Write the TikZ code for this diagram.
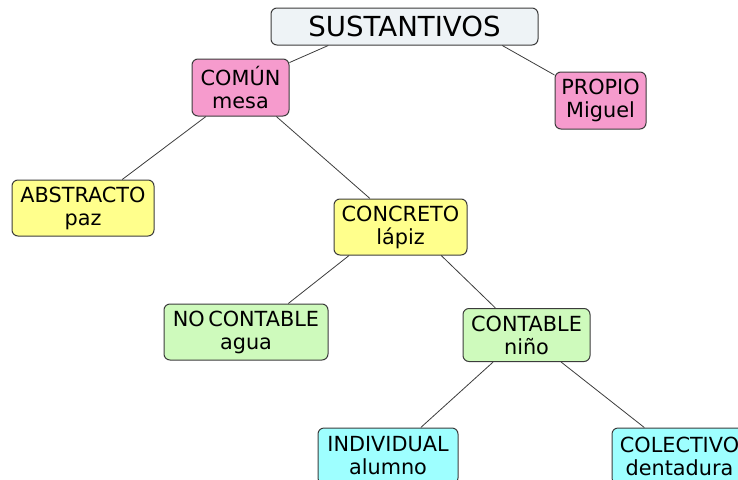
\documentclass[tikz,border=0pt]{standalone}
\usepackage{fontspec}
\setmainfont{DejaVu Sans}
\usetikzlibrary{shapes}
\usetikzlibrary{arrows.meta}
\definecolor{boxline}{RGB}{60,60,60}
\definecolor{topfill}{RGB}{238,243,246}
\definecolor{pinkfill}{RGB}{246,155,205}
\definecolor{yellowfill}{RGB}{255,255,140}
\definecolor{greenfill}{RGB}{206,250,188}
\definecolor{cyanfill}{RGB}{158,255,255}
\tikzset{
    mynode/.style = {rectangle, rounded corners=6pt, draw=boxline, line width=1pt, align=center, inner sep=0pt, minimum height=56pt, font=\fontsize{20.8}{23}\selectfont, text=black},
    mynodet/.style = {mynode, fill=topfill, minimum height=37pt, font=\fontsize{27.6}{30}\selectfont},
    mynodep/.style = {mynode, fill=pinkfill},
    mynodey/.style = {mynode, fill=yellowfill},
    mynodeg/.style = {mynode, fill=greenfill},
    mynodec/.style = {mynode, fill=cyanfill},
    edgen/.style = {-, line width=0.8pt, boxline}
}
\begin{document}
\begin{tikzpicture}[x=1pt,y=-1pt]
\useasboundingbox (0,0) rectangle (738,479);
\node[mynodet, minimum width=267pt] at (404.5,  26.5) (sust) {SUSTANTIVOS};
\node[mynodep, minimum width=97pt, minimum height=57pt] at (240.5,  87.5) (comun) {COMÚN\\mesa};
\node[mynodep, minimum width=91pt, minimum height=57pt] at (600.5, 100.5) (propio) {PROPIO\\Miguel};
\node[mynodey, minimum width=142pt] at ( 83.0, 208.0) (abstracto) {ABSTRACTO\\paz};
\node[mynodey, minimum width=133pt] at (400.5, 227.0) (concreto) {CONCRETO\\lápiz};
\node[mynodeg, minimum width=164pt] at (246.0, 332.0) (nocont) {NO\,CONTABLE\\agua};
\node[mynodeg, minimum width=127pt, minimum height=53pt] at (526.5, 335.0) (cont) {CONTABLE\\niño};
\node[mynodec, minimum width=140pt] at (388.0, 456.0) (indiv) {INDIVIDUAL\\alumno};
\node[mynodec, minimum width=135pt] at (679.5, 456.0) (colect) {COLECTIVO\\dentadura};

\draw[edgen] (sust.194) -- (comun.27);
\draw[edgen] (sust.-11) -- (propio.151);
\draw[edgen] (comun.220) -- (abstracto.36);
\draw[edgen] (comun.-39) -- (concreto.137);
\draw[edgen] (concreto.209) -- (nocont.34);
\draw[edgen] (concreto.-35) -- (cont.139);
\draw[edgen] (cont.219) -- (indiv.41);
\draw[edgen] (cont.-38) -- (colect.141);

\end{tikzpicture}
\end{document}
